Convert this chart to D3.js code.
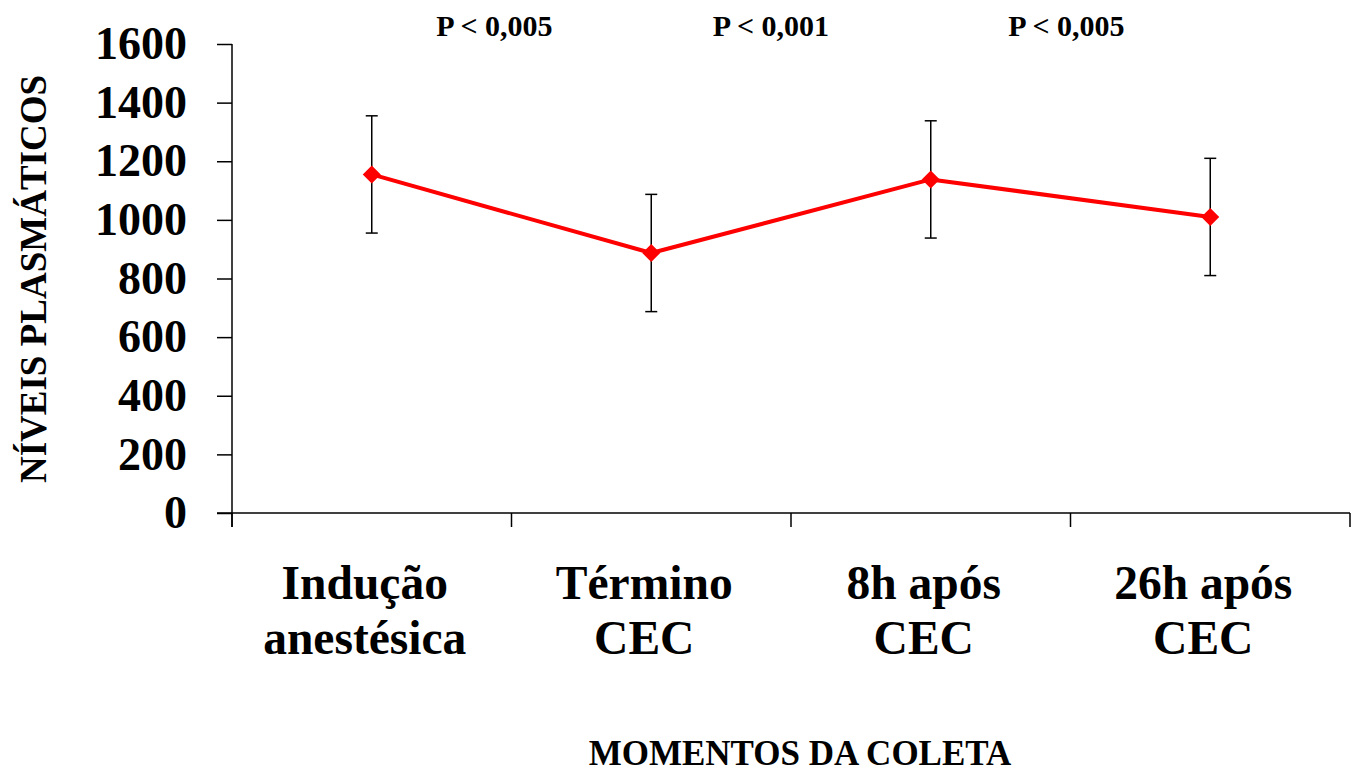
<!DOCTYPE html>
<html>
<head>
<meta charset="utf-8">
<script src="https://cdn.jsdelivr.net/npm/d3@7"></script>
<style>
  html, body { margin: 0; padding: 0; background: #fff; }
  svg { display: block; font-family: "Liberation Serif", "Times New Roman", serif; font-weight: bold; }
</style>
</head>
<body>
<svg id="chart" width="1351" height="772"></svg>
<script>
// Sampling moments (two-line labels)
const categories = [
  ["Indução", "anestésica"],
  ["Término", "CEC"],
  ["8h após", "CEC"],
  ["26h após", "CEC"]
];
// Mean plasma levels and error (± SD)
const means = [1155, 887, 1138, 1010];
const errors = [200, 200, 200, 200];
// Y-axis ticks
const yTicks = [0, 200, 400, 600, 800, 1000, 1200, 1400, 1600];
// Significance between consecutive moments
const pLabels = ["P < 0,005", "P < 0,001", "P < 0,005"];

const serif = "'Liberation Serif', 'Times New Roman', serif";
const svg = d3.select("#chart");
const plotLeft = 232, plotRight = 1350, plotTop = 44, plotBottom = 513;

const x = d3.scaleBand()
  .domain(d3.range(categories.length))
  .range([plotLeft, plotRight])
  .padding(0);
const y = d3.scaleLinear().domain([0, 1600]).range([plotBottom, plotTop]);

// Y axis
const yAxis = svg.append("g")
  .attr("transform", `translate(${plotLeft},0)`)
  .call(d3.axisLeft(y).tickValues(yTicks).tickFormat(d3.format("d"))
    .tickSize(15).tickPadding(30).tickSizeOuter(0));
yAxis.attr("font-family", null).attr("font-size", null);
yAxis.select(".domain").attr("stroke", "#000").attr("stroke-width", 1.5)
  .attr("d", `M0,${plotTop}V${plotBottom + 14}`);
yAxis.selectAll(".tick line").attr("stroke", "#000").attr("stroke-width", 1.5);
yAxis.selectAll(".tick text")
  .attr("fill", "#000")
  .style("font-size", "46px")
  .style("font-weight", "bold")
  .style("font-family", serif);

// X axis: baseline with ticks at category boundaries
const xAxisG = svg.append("g");
xAxisG.append("line")
  .attr("x1", plotLeft - 15).attr("x2", plotRight)
  .attr("y1", plotBottom).attr("y2", plotBottom)
  .attr("stroke", "#000").attr("stroke-width", 1.5);
const boundaries = d3.range(categories.length + 1).map(i =>
  i < categories.length ? x(i) : x(categories.length - 1) + x.bandwidth());
xAxisG.selectAll("line.xt")
  .data(boundaries)
  .join("line")
  .attr("class", "xt")
  .attr("x1", d => d).attr("x2", d => d)
  .attr("y1", plotBottom).attr("y2", plotBottom + 14)
  .attr("stroke", "#000").attr("stroke-width", 1.5);

// Category labels
const catG = svg.append("g");
categories.forEach((lines, i) => {
  const lx = x(i) + x.bandwidth() / 2 - 7;
  const t = catG.append("text")
    .attr("text-anchor", "middle")
    .attr("x", lx)
    .attr("y", 599)
    .style("font-size", "47.5px")
    .style("font-family", serif)
    .attr("fill", "#000");
  lines.forEach((ln, j) => {
    t.append("tspan")
      .attr("x", lx)
      .attr("dy", j === 0 ? 0 : 55)
      .text(ln);
  });
});

// Axis titles
svg.append("text")
  .attr("text-anchor", "middle")
  .attr("x", 800).attr("y", 765)
  .style("font-size", "35px")
  .style("font-family", serif)
  .attr("fill", "#000")
  .text("MOMENTOS DA COLETA");

svg.append("text")
  .attr("text-anchor", "middle")
  .attr("transform", "translate(46,279) rotate(-90)")
  .style("font-size", "37px")
  .style("font-family", serif)
  .attr("fill", "#000")
  .text("NÍVEIS PLASMÁTICOS");

// P-value annotations between consecutive moments
const pOffsets = [-17, -20, -4];
svg.selectAll("text.pval")
  .data(pLabels)
  .join("text")
  .attr("class", "pval")
  .attr("text-anchor", "middle")
  .attr("x", (d, i) => x(i + 1) + pOffsets[i])
  .attr("y", 36)
  .style("font-size", "30px")
  .style("font-family", serif)
  .attr("fill", "#000")
  .text(d => d);

const cx = i => x(i) + x.bandwidth() / 2;

// Error bars
const eb = svg.append("g").attr("stroke", "#000").attr("stroke-width", 1.5);
means.forEach((m, i) => {
  const yt = y(m + errors[i]), yb = y(m - errors[i]);
  eb.append("line").attr("x1", cx(i)).attr("x2", cx(i)).attr("y1", yt).attr("y2", yb);
  eb.append("line").attr("x1", cx(i) - 6).attr("x2", cx(i) + 6).attr("y1", yt).attr("y2", yt);
  eb.append("line").attr("x1", cx(i) - 6).attr("x2", cx(i) + 6).attr("y1", yb).attr("y2", yb);
});

// Mean line
svg.append("path")
  .datum(means)
  .attr("fill", "none")
  .attr("stroke", "#ff0000")
  .attr("stroke-width", 4)
  .attr("stroke-linejoin", "round")
  .attr("d", d3.line().x((d, i) => cx(i)).y(d => y(d)));

// Diamond markers
svg.selectAll("path.marker")
  .data(means)
  .join("path")
  .attr("class", "marker")
  .attr("fill", "#ff0000")
  .attr("d", (d, i) => {
    const px = cx(i), py = y(d), r = 9;
    return `M${px},${py - r}L${px + r},${py}L${px},${py + r}L${px - r},${py}Z`;
  });
</script>
</body>
</html>
